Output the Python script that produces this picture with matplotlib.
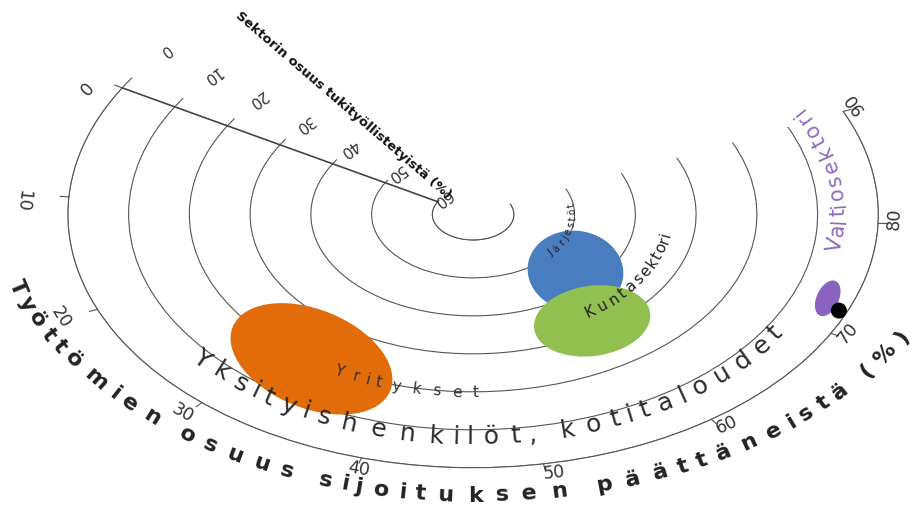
import numpy as np
import matplotlib.pyplot as plt
from matplotlib.markers import MarkerStyle
from matplotlib.path import Path
from matplotlib.transforms import Affine2D
from matplotlib.textpath import TextToPath
from matplotlib.font_manager import FontProperties

# angle = share of unemployed among those who ended the placement (%)
# radius = sector's share of subsidised employees (%), 0 on the outer ring
sectors = ["Yritykset", "Järjestöt", "Kuntasektori", "Valtiosektori",
           "Yksityishenkilöt, kotitaloudet"]
unemployed_pct = [32.7, 64.8, 59.6, 72.8, 72.0]
sector_share = [20.3, 44.2, 32.5, 4.3, 1.4]
blob_colors = ["#E36C0A", "#4A7DBF", "#92C050", "#8A63C0", "#000000"]
blob_width_px = [170, 96, 117, 38, 16]
blob_ratio = [0.58, 0.84, 0.60, 0.58, 1.0]
blob_tilt = [-22, -8, 8, 65, 0]

theta_ticks = [0, 10, 20, 30, 40, 50, 60, 70, 80, 90]
r_ticks = [0, 10, 20, 30, 40, 50, 60]

theta_title = "Työttömien osuus sijoituksen päättäneistä (%)"
r_title = "Sektorin osuus tukityöllistetyistä (%)"

# curved labels: text, start angle, end angle, radius, size, colour
label_text = ["Yritykset", "Järjestöt", "Kuntasektori", "Valtiosektori",
              "Yksityishenkilöt, kotitaloudet"]
label_v0 = [34.5, 65.1, 59.4, 77.0, 26.2]
label_v1 = [46.9, 85.2, 77.5, 91.5, 69.0]
label_r = [19.8, 50.3, 34.5, 6.5, 8.0]
label_size = [11, 7, 11, 15, 18]
label_color = ["#333333", "#222222", "#222222", "#8E6BC4", "#2a2a2a"]

DEG_PER_UNIT = 2.6
GRID = "#555555"


def th(v):
    return np.deg2rad(np.asarray(v) * DEG_PER_UNIT)


fig = plt.figure(figsize=(9.2, 5.11), dpi=100, facecolor="white")
ax = fig.add_axes([0.0728, -0.0445, 0.887, 0.998], projection="polar")
ax.set_aspect("auto")
ax.set_theta_offset(np.deg2rad(150))
ax.set_thetamin(0)
ax.set_thetamax(90 * DEG_PER_UNIT)
ax.set_rlim(60, 0)
ax.set_rorigin(66.7)

ax.set_xticks(th(theta_ticks))
ax.set_xticklabels([])
ax.set_yticks(r_ticks)
ax.set_yticklabels([])
ax.tick_params(axis="both", length=0)
ax.xaxis.grid(False)
ax.yaxis.grid(True, color=GRID, lw=0.8)
ax.spines["end"].set_color("none")
ax.spines["polar"].set_color(GRID)
ax.spines["polar"].set_linewidth(0.8)
ax.spines["inner"].set_color(GRID)
ax.spines["inner"].set_linewidth(0.8)
ax.spines["start"].set_color("#444444")
ax.spines["start"].set_linewidth(1.2)

t2p = TextToPath()


def tangent(v, r):
    p0 = ax.transData.transform((th(v - 0.3), r))
    p1 = ax.transData.transform((th(v + 0.3), r))
    return np.degrees(np.arctan2(p1[1] - p0[1], p1[0] - p0[0]))


def curved_text(text, v0, v1, r, size, color, weight="normal", r_mid=None):
    # r_mid lets the radius sag in the middle of the text
    prop = FontProperties(family="DejaVu Sans", size=size, weight=weight)
    meas = text.replace(" ", "I")
    w = [t2p.get_text_width_height_descent(meas[:i + 1], prop, ismath=False)[0]
         for i in range(len(meas))]
    prev = [0] + w[:-1]
    for ch, a, b in zip(text, prev, w):
        f = (a + b) / 2 / w[-1]
        v = v0 + f * (v1 - v0)
        rr = r if r_mid is None else r_mid + (r - r_mid) * (2 * f - 1) ** 2
        ax.text(th(v), rr, ch, rotation=tangent(v, rr), rotation_mode="anchor",
                ha="center", va="center", fontproperties=prop, color=color,
                zorder=4)


# blobs
for i in range(len(sectors)):
    m = MarkerStyle(Path.unit_circle(),
                    transform=Affine2D().scale(1, blob_ratio[i]).rotate_deg(blob_tilt[i]))
    ax.scatter(th(unemployed_pct[i]), sector_share[i], s=(blob_width_px[i] * 0.72) ** 2,
               marker=m, color=blob_colors[i], edgecolors="none", zorder=3, clip_on=False)

# ticks on the outer ring and on the radial line
for v in theta_ticks:
    ax.plot([th(v), th(v)], [0, -1.4], color=GRID, lw=0.8, clip_on=False)
    rot = tangent(v, -2.6)
    out_x = np.cos(np.deg2rad(rot - 90))
    ax.annotate(str(v), xy=(th(v + 0.4), -2.6), xytext=(30 * min(out_x, 0), 0),
                textcoords="offset pixels", rotation=rot, rotation_mode="anchor",
                ha="center", va="center", fontsize=12.5, color="#333333",
                annotation_clip=False)
for r in r_ticks:
    ax.plot([th(-1.0), th(0)], [r, r], color=GRID, lw=0.8, clip_on=False)
    ax.text(th(-4), r, str(r), rotation=tangent(-4, r), rotation_mode="anchor",
            ha="center", va="center", fontsize=11, color="#333333")

ax.text(th(-9), 31, r_title, rotation=-40.7, rotation_mode="anchor",
        ha="center", va="center", fontsize=9.5, fontweight="bold",
        color="#111111")

curved_text(theta_title, 16.4, 71.8, -11, 16, "#222222", weight="bold", r_mid=-7.3)
for i in range(len(label_text)):
    curved_text(label_text[i], label_v0[i], label_v1[i], label_r[i],
                label_size[i], label_color[i])

fig.savefig("out.png", dpi=100, facecolor="white")
